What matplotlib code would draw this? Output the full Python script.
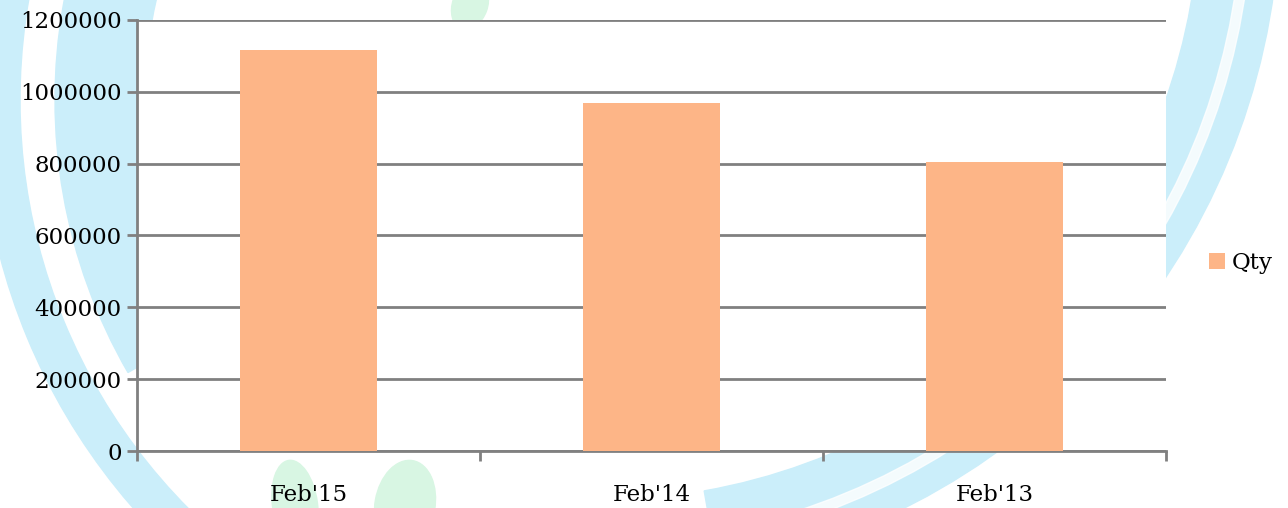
import matplotlib.pyplot as plt
from matplotlib.patches import Wedge, Ellipse

# data
categories = ["Feb'15", "Feb'14", "Feb'13"]
qty = [1116000, 968000, 805000]
yticks = [0, 200000, 400000, 600000, 800000, 1000000, 1200000]

plt.rcParams['font.family'] = ['DejaVu Serif']

fig = plt.figure(figsize=(12.88, 5.08), dpi=100)

# faint watermark background, drawn in pixel coordinates (y downwards)
bg = fig.add_axes([0, 0, 1, 1], zorder=-1)
bg.set_xlim(0, 1288)
bg.set_ylim(508, 0)
bg.axis('off')
blue = '#cbeefa'
green = '#d8f6e3'
# left: thin arc and wide arc
bg.add_patch(Wedge((600, 100), 620, 125, 190, width=40, color=blue))
bg.add_patch(Wedge((600, 100), 545, 150, 230, width=90, color=blue))
# right / bottom swoosh with a white stripe
bg.add_patch(Wedge((600, -100), 680, 0, 80, width=80, color=blue))
bg.add_patch(Wedge((600, -100), 652, 0, 80, width=10, color='white', alpha=0.8))
# green leaf hints
bg.add_patch(Ellipse((295, 505), 45, 90, angle=-8, color=green))
bg.add_patch(Ellipse((405, 505), 60, 90, angle=10, color=green))
bg.add_patch(Ellipse((470, 5), 35, 50, angle=20, color=green))

ax = fig.add_axes([137 / 1288, 57 / 508, 1029 / 1288, 431 / 508])
x = range(len(categories))
ax.bar(x, qty, width=0.4, color='#fdb587', label='Qty', zorder=3)

ax.set_xlim(-0.5, 2.5)
ax.set_ylim(0, 1200000)
ax.set_yticks(yticks)
ax.set_yticklabels([str(v) for v in yticks])
ax.set_xticks(list(x))
ax.set_xticklabels(categories)
ax.set_xticks([-0.5, 0.5, 1.5, 2.5], minor=True)
ax.tick_params(axis='x', which='major', length=0, pad=24, labelsize=16.5)
ax.tick_params(axis='x', which='minor', length=7, width=2, color='#808080')
ax.tick_params(axis='y', length=7, width=2, color='#808080', pad=4, labelsize=16.5)

ax.grid(axis='y', color='#808080', linewidth=2, zorder=0)
for s in ['top', 'right']:
    ax.spines[s].set_visible(False)
for s in ['left', 'bottom']:
    ax.spines[s].set_color('#808080')
    ax.spines[s].set_linewidth(2)
ax.set_facecolor('white')

fig.legend(loc='center left', bbox_to_anchor=(1188 / 1288, 0.482), frameon=False,
           handlelength=0.7, handleheight=0.7, handletextpad=0.3, fontsize=16.5)

fig.savefig('out.png', dpi=100)
